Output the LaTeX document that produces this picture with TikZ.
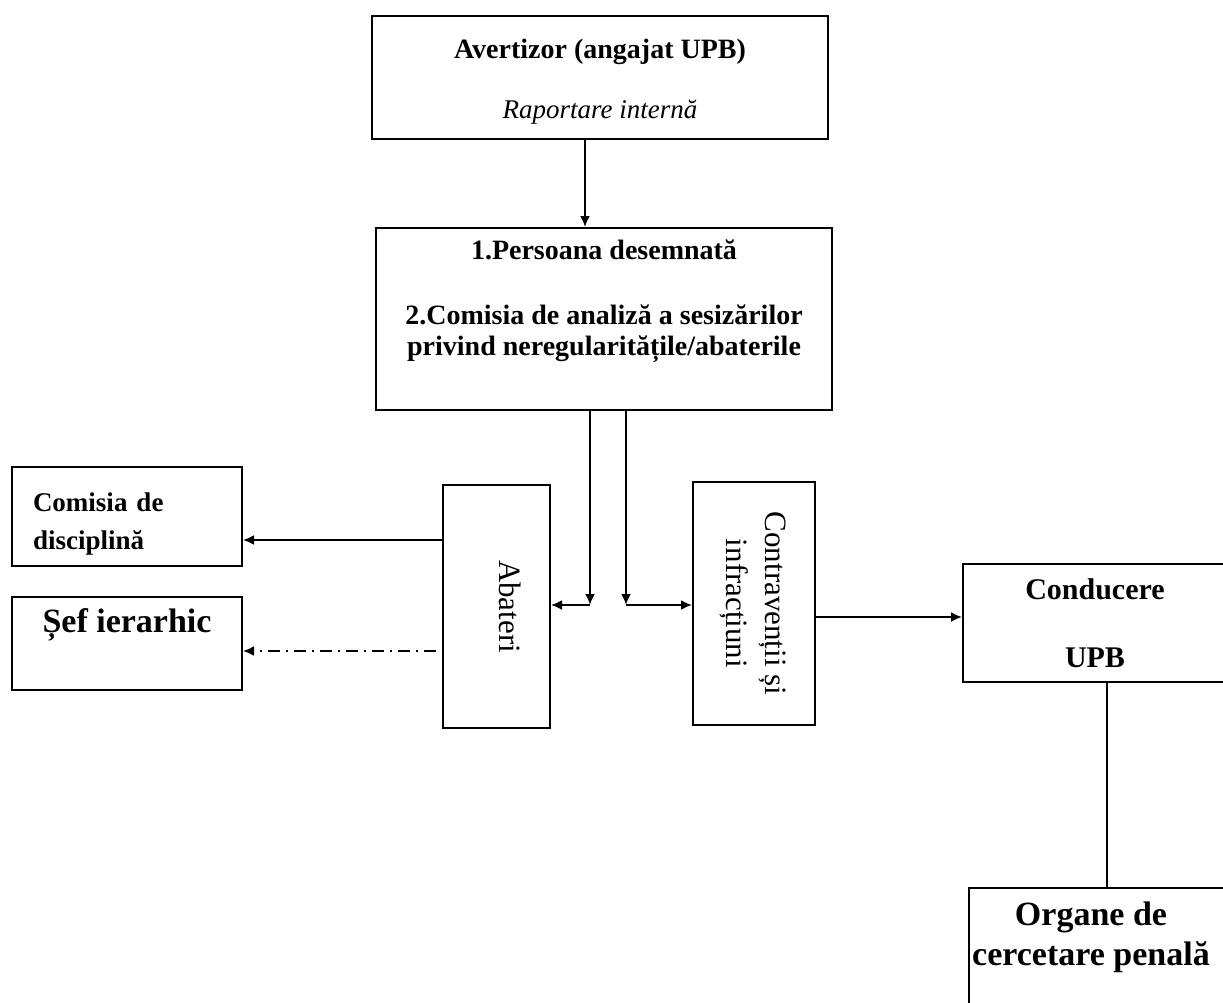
\documentclass[tikz,border=0pt]{standalone}
\usepackage{fontspec}
\setmainfont{Liberation Serif}
\usepackage{graphicx}
\usetikzlibrary{arrows.meta}

\begin{document}
\begin{tikzpicture}[x=0.5pt,y=-0.5pt, %% one unit = one pixel of the scan
        box/.style={draw, line width=1pt, inner sep=0pt, align=center},
        arr/.style={line width=1pt, -{Latex[length=5.5pt,width=5pt]}},
        wire/.style={line width=1pt},
        dashdot/.style={dash pattern=on 6pt off 3pt on 1pt off 3pt}]
            \useasboundingbox (0,0) rectangle (1223,1003);
            \clip (0,0) rectangle (1223,1003);

            \node[box, minimum width=228pt, minimum height=61.5pt,
                  font=\fontsize{14}{17}\selectfont] (aver) at (600,77.5)
                {\rule{0pt}{14pt}\textbf{Avertizor (angajat UPB)}\\[13pt]
                 {\fontsize{13.5}{17}\selectfont\itshape Raportare internă}};

            \node[box, minimum width=228pt, minimum height=91pt,
                  font=\fontsize{14}{15.5}\selectfont\bfseries] (pers) at (604,319)
                {1.Persoana desemnată\\[17pt]
                 2.Comisia de analiză a sesizărilor\\
                 privind neregularitățile/abaterile\\[6pt]~};

            \node[box, minimum width=53.5pt, minimum height=121.5pt,
                  font=\fontsize{15.5}{19.5}\selectfont] (abat) at (496.5,606.5)
                {\hspace*{13.5pt}\rotatebox{-90}{Abateri}};

            \node[box, minimum width=61pt, minimum height=121.5pt,
                  font=\fontsize{15.5}{19.5}\selectfont] (contr) at (754,603.5)
                {\rotatebox{-90}{\begin{tabular}{@{}c@{}}Contravenții și\\infracțiuni\end{tabular}}};

            \node[box, minimum width=115pt, minimum height=49.5pt, align=left,
                  text width=94pt, inner xsep=10.5pt,
                  font=\fontsize{13.5}{19}\selectfont\bfseries] (comis) at (127,516.5)
                {\rule{0pt}{17pt}Comisia de\\disciplină};

            \node[box, minimum width=115pt, minimum height=46.5pt,
                  font=\fontsize{17}{22.5}\selectfont\bfseries] (sef) at (127,643.5)
                {Șef ierarhic\\~};

            \node[box, minimum width=132pt, minimum height=59pt,
                  font=\fontsize{15}{34}\selectfont\bfseries] (cond) at (1095,623)
                {Conducere\\UPB};

            \node[box, anchor=north west, minimum width=150pt, inner ysep=4.5pt,
                  font=\fontsize{17}{20}\selectfont\bfseries] (organ) at (968,887)
                {\begin{tabular}{@{}c@{}}Organe de\\cercetare penală\\ \\ \end{tabular}\hspace*{28pt}};

            \coordinate (avout) at ([xshift=-7.5pt]aver.south);
            \coordinate (orgin) at ([xshift=-6pt]organ.north);
            \coordinate (jab) at (590,605);
            \coordinate (jco) at (626,605);
            \coordinate (lvcom) at (0,540);
            \coordinate (lvsef) at (0,651);
            \coordinate (lvcond) at (0,617);

            \draw[arr] (avout) -- (avout |- pers.north);

            \draw[arr] (jab |- pers.south) -- (jab);
            \draw[arr] (jab) -- (jab -| abat.east);
            \draw[arr] (jco |- pers.south) -- (jco);
            \draw[arr] (jco) -- (jco -| contr.west);

            \draw[arr] (abat.west |- lvcom) -- (comis.east |- lvcom);
            \draw[arr, dashdot] ([xshift=-3pt]abat.west |- lvsef) -- (sef.east |- lvsef);

            \draw[arr] (contr.east |- lvcond) -- (cond.west |- lvcond);
            \draw[wire] (orgin |- cond.south) -- (orgin);
\end{tikzpicture}
\end{document}
